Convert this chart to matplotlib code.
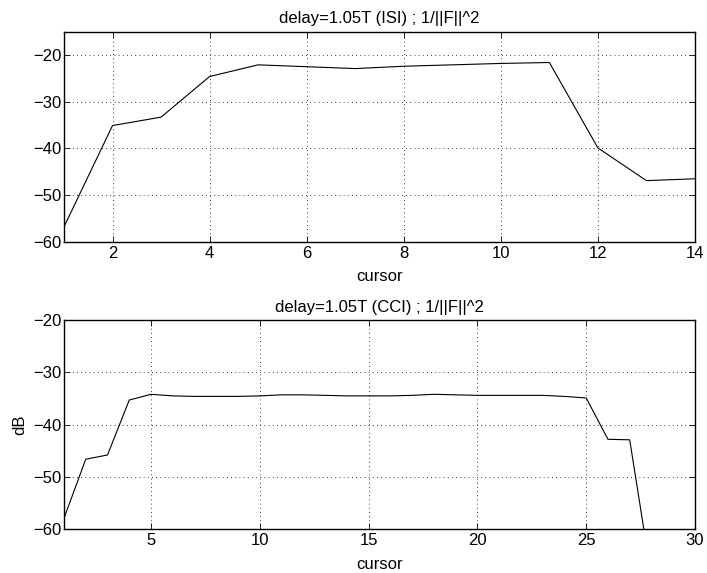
import matplotlib
matplotlib.use("Agg")
from matplotlib import pyplot as plt

plt.rcParams['font.family'] = ['Liberation Sans', 'DejaVu Sans']
plt.rcParams['font.size'] = 12

# ISI, cursors 1..14
isi_cursor = list(range(1, 15))
isi_db = [-56.8, -35.1, -33.3, -24.6, -22.1, -22.5, -22.9,
          -22.4, -22.1, -21.8, -21.6, -39.9, -46.9, -46.5]

# CCI, cursors 1..30 (tail drops below the axis)
cci_cursor = list(range(1, 31))
cci_db = [-57.9, -46.6, -45.8, -35.3, -34.2, -34.5, -34.6, -34.6, -34.6, -34.5,
          -34.3, -34.3, -34.4, -34.5, -34.5, -34.5, -34.4, -34.2, -34.3, -34.4,
          -34.4, -34.4, -34.4, -34.6, -34.9, -42.8, -42.9, -69.2, -75.0, -78.0]

isi_xticks = [2, 4, 6, 8, 10, 12, 14]
cci_xticks = [5, 10, 15, 20, 25, 30]
yticks = [-60, -50, -40, -30, -20]


def style_axes(ax):
    ax.tick_params(direction='in', top=True, right=True, length=4, width=0.6,
                   labelsize=12)
    ax.tick_params(axis='y', pad=2)
    ax.tick_params(axis='x', pad=3)
    ax.grid(True, color='black', linewidth=0.6, linestyle=(0, (1, 4)))
    for s in ax.spines.values():
        s.set_linewidth(1.0)


fig = plt.figure(figsize=(7.07, 5.73), dpi=100)

ax1 = fig.add_axes([0.0905, 0.578, 0.8925, 0.3667])
ax1.plot(isi_cursor, isi_db, color='black', linewidth=0.8)
ax1.set_xlim(1, 14)
ax1.set_ylim(-60, -15)
ax1.set_xticks(isi_xticks)
ax1.set_yticks(yticks)
ax1.set_xlabel('cursor', labelpad=6)
ax1.set_title('delay=1.05T (ISI) ; 1/||F||^2', fontsize=12, pad=6)
style_axes(ax1)

ax2 = fig.add_axes([0.0905, 0.0763, 0.8925, 0.3652])
ax2.plot(cci_cursor, cci_db, color='black', linewidth=0.8)
ax2.set_xlim(1, 30)
ax2.set_ylim(-60, -20)
ax2.set_xticks(cci_xticks)
ax2.set_yticks(yticks)
ax2.set_xlabel('cursor', labelpad=6)
ax2.set_ylabel('dB', labelpad=4)
ax2.set_title('delay=1.05T (CCI) ; 1/||F||^2', fontsize=12, pad=6)
style_axes(ax2)

plt.savefig('out.png', dpi=100)
